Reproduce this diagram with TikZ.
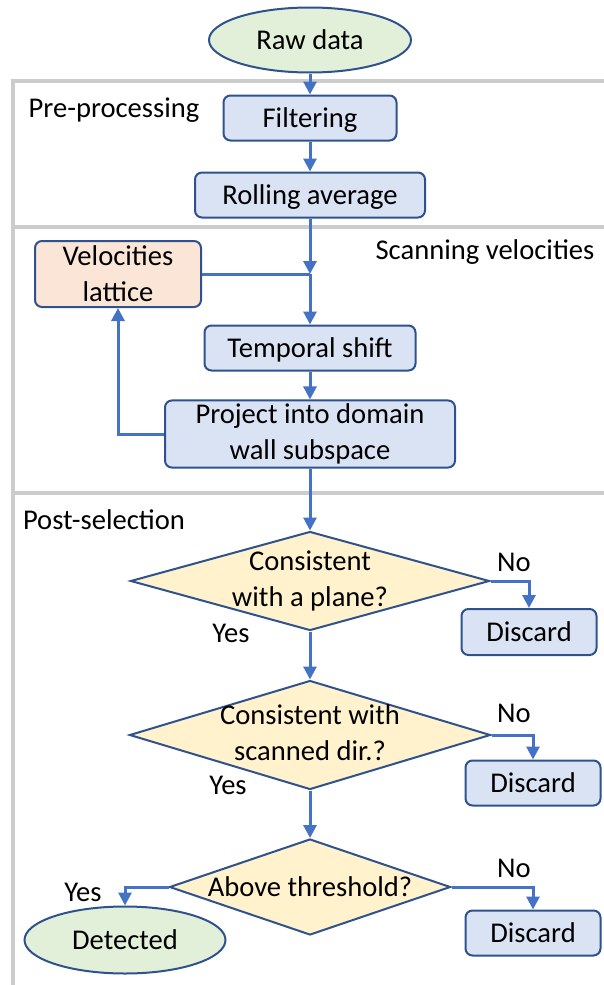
\documentclass[tikz,border=0pt]{standalone}
\usepackage{fontspec}
\setmainfont{Carlito}
\usepackage{tikz}
\usetikzlibrary{arrows.meta}
\usetikzlibrary{shapes.geometric}
\definecolor{arrblue}{RGB}{68,114,196}
\definecolor{edgeblue}{RGB}{47,82,143}
\definecolor{boxfill}{RGB}{218,227,243}
\definecolor{termfill}{RGB}{226,240,217}
\definecolor{decfill}{RGB}{255,242,204}
\definecolor{latfill}{RGB}{251,229,214}
\definecolor{framegray}{RGB}{204,204,204}

\begin{document}
\begin{tikzpicture}[x=1pt, y=-1pt, font=\fontsize{28.6}{36}\selectfont,
    box/.style={rectangle, rounded corners=7pt, draw=edgeblue, line width=2pt, fill=boxfill, align=center},
    term/.style={ellipse, draw=edgeblue, line width=2pt, fill=termfill, inner sep=0pt},
    oneline/.style={text height=23pt, text depth=4pt},
    decision/.style={diamond, aspect=1, draw=edgeblue, line width=2pt, fill=decfill, inner sep=0pt},
    txt/.style={inner sep=0pt},
    arr/.style={draw=arrblue, line width=3pt, -{Triangle[length=13pt, width=13pt]}},
    lin/.style={draw=arrblue, line width=3pt},
    frame/.style={draw=framegray, line width=4.5pt}]
  \useasboundingbox (0,0) rectangle (603,985);
  % stage frames
  \draw[frame] (13,81) rectangle (650,227);
  \draw[frame] (13,227) rectangle (650,493);
  \draw[frame] (13,493) rectangle (650,1010);
  \node[txt] (pre) at (114,110) {Pre-processing};
  \node[txt] (scan) at (485,252) {Scanning velocities};
  \node[txt] (post) at (104,520) {Post-selection};

  \node[term, oneline, minimum width=202pt, minimum height=65pt] (raw) at (310,40) {Raw data};
  \node[box, oneline, minimum width=173pt, minimum height=45pt] (filt) at (310,118) {Filtering};
  \node[box, oneline, minimum width=230pt, minimum height=45pt] (roll) at (310,195) {Rolling average};
  \node[box, fill=latfill, minimum width=166pt, minimum height=66pt] (lat) at (118,274) {Velocities\\lattice};
  \node[box, oneline, minimum width=211pt, minimum height=45pt] (temp) at (310,348) {Temporal shift};
  \node[box, minimum width=290pt, minimum height=67pt] (proj) at (310,434) {Project into domain\\wall subspace};
  \coordinate (join) at (310,274);

  \node[decision, minimum width=359pt, minimum height=99pt] (dec1) at (310,581)
    {\makebox[0pt]{\begin{tabular}{@{}c@{}}Consistent\\with a plane?\end{tabular}}};
  \node[decision, minimum width=361pt, minimum height=109pt] (dec2) at (310,735)
    {\makebox[0pt]{\begin{tabular}{@{}c@{}}Consistent with\\scanned dir.?\end{tabular}}};
  \node[decision, oneline, minimum width=281pt, minimum height=96pt] (dec3) at (310,887)
    {\makebox[0pt]{Above threshold?}};
  \node[box, oneline, minimum width=135pt, minimum height=46pt] (disc1) at (529,632) {Discard};
  \node[box, oneline, minimum width=135pt, minimum height=45pt] (disc2) at (533,783) {Discard};
  \node[box, oneline, minimum width=135pt, minimum height=45pt] (disc3) at (533,933) {Discard};
  \node[term, oneline, minimum width=201pt, minimum height=67pt] (det) at (125,940) {Detected};

  \node[txt] (no1) at (514,562) {No}; \node[txt] (yes1) at (231,633) {Yes};
  \node[txt] (no2) at (514,713) {No}; \node[txt] (yes2) at (228,785) {Yes};
  \node[txt] (no3) at (514,868) {No}; \node[txt] (yes3) at (83,892) {Yes};

  \draw[arr] (raw) -- (filt);
  \draw[arr] (filt) -- (roll);
  \draw[arr] (roll) -- (join);
  \draw[lin] (lat.east |- join) -- (join);
  \draw[arr] (join) -- (temp);
  \draw[arr] (temp) -- (proj);
  \draw[arr] (proj.west) -| (lat.south); % feedback loop
  \draw[arr] (proj) -- (dec1);
  \draw[arr] (dec1.east) -| (disc1.north);
  \draw[arr] (dec1) -- (dec2);
  \draw[arr] (dec2.east) -| (disc2.north);
  \draw[arr] (dec2) -- (dec3);
  \draw[arr] (dec3.east) -| (disc3.north);
  \draw[arr] (dec3.west) -| (det.north);
\end{tikzpicture}
\end{document}
